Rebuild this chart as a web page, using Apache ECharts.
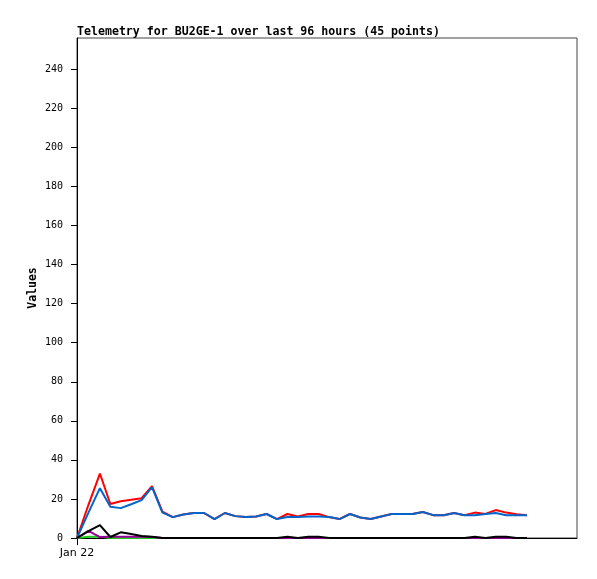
<!DOCTYPE html>
<html>
<head>
<meta charset="utf-8">
<script src="https://cdn.jsdelivr.net/npm/echarts@6/dist/echarts.min.js"></script>
<style>html,body{margin:0;padding:0;background:#fff;}#c{width:597px;height:579px;}</style>
</head>
<body>
<div id="c"></div>
<script>
// hours since start of the 96-hour window
var hours = [0, 2.2, 4.4, 6.4, 8.4, 10.4, 12.4, 14.4, 16.4, 18.4, 20.4, 22.4, 24.4, 26.4, 28.4, 30.4, 32.4, 34.4, 36.4, 38.4, 40.4, 42.4, 44.4, 46.4, 48.4, 50.4, 52.4, 54.4, 56.4, 58.4, 60.4, 62.4, 64.4, 66.4, 68.4, 70.4, 72.4, 74.4, 76.4, 78.4, 80.4, 82.4, 84.4, 86.4];
var redValues = [0, 17, 33, 17.4, 18.8, 19.6, 20.4, 26.6, 13.5, 10.7, 12, 12.8, 12.8, 9.7, 12.8, 11.2, 10.7, 11, 12.3, 9.7, 12.3, 11, 12.3, 12.3, 10.7, 9.7, 12.3, 10.5, 9.7, 11, 12.3, 12.3, 12.3, 13.3, 11.7, 11.7, 12.8, 11.7, 13, 12.3, 14.3, 13, 12.2, 11.7];
var blueValues = [0, 13, 25.5, 16, 15.3, 17.3, 19.4, 26, 13, 10.7, 12, 12.8, 12.8, 9.7, 12.8, 11.2, 10.7, 11, 12.3, 9.7, 10.7, 10.7, 11, 11, 10.7, 9.7, 12.3, 10.5, 9.7, 11, 12.3, 12.3, 12.3, 13.3, 11.7, 11.7, 12.8, 11.7, 11.7, 12.3, 12.8, 11.7, 11.7, 11.7];
var blackValues = [0, 3.5, 6.6, 0.5, 2.9, 2, 1, 0.7, 0, 0, 0, 0, 0, 0, 0, 0, 0, 0, 0, 0, 0.6, 0, 0.6, 0.6, 0, 0, 0, 0, 0, 0, 0, 0, 0, 0, 0, 0, 0, 0, 0.6, 0, 0.6, 0.6, 0, 0];
var greenValues = [0, 0.7, 0.7, 0, 0, 0, 0, 0, 0, 0, 0, 0, 0, 0, 0, 0, 0, 0, 0, 0, 0, 0, 0, 0, 0, 0, 0, 0, 0, 0, 0, 0, 0, 0, 0, 0, 0, 0, 0, 0, 0, 0, 0, 0];
var purpleValues = [0, 3.6, 0.5, 0.7, 0.7, 0.7, 0.7, 0.5, 0, 0, 0, 0, 0, 0, 0, 0, 0, 0, 0, 0, 0, 0, 0, 0, 0, 0, 0, 0, 0, 0, 0, 0, 0, 0, 0, 0, 0, 0, 0, 0, 0, 0, 0, 0];
var yTicks = [0, 20, 40, 60, 80, 100, 120, 140, 160, 180, 200, 220, 240];
var xTickValues = [0];
var xTickLabels = ['Jan 22'];
var titleText = 'Telemetry for BU2GE-1 over last 96 hours (45 points)';
var yAxisName = 'Values';

function pairs(vals) {
  return vals.map(function (v, i) { return [hours[i], v]; });
}
function line(name, vals, color) {
  return {
    name: name, type: 'line', data: pairs(vals), symbol: 'none',
    lineStyle: { color: color, width: 2 }, itemStyle: { color: color },
    animation: false, silent: true
  };
}
var mono = 'DejaVu Sans Mono';
var chart = echarts.init(document.getElementById('c'), null, { renderer: 'canvas' });
chart.setOption({
  animation: false,
  backgroundColor: '#fff',
  title: {
    text: titleText, left: 77, top: 26, padding: 0,
    textStyle: { fontFamily: mono, fontWeight: 'bold', fontSize: 11.6, color: '#000' }
  },
  grid: { left: 77, right: 20, top: 38, bottom: 41, show: true, borderColor: '#444', borderWidth: 1, backgroundColor: 'transparent' },
  xAxis: {
    type: 'value', min: 0, max: 96,
    axisLine: { show: true, lineStyle: { color: '#000', width: 1 } },
    axisTick: { show: true, length: 7, lineStyle: { color: '#000' }, customValues: xTickValues },
    axisLabel: {
      customValues: xTickValues, margin: 10,
      formatter: function (v) { var i = xTickValues.indexOf(v); return i >= 0 ? xTickLabels[i] : ''; },
      fontFamily: 'DejaVu Sans', fontSize: 11, color: '#000'
    },
    splitLine: { show: false }
  },
  yAxis: {
    type: 'value', min: 0, max: 256,
    name: yAxisName, nameLocation: 'middle', nameGap: 38, nameRotate: 90, nameMoveOverlap: false,
    nameTextStyle: { fontFamily: mono, fontWeight: 'bold', fontSize: 11.5, color: '#000' },
    axisLine: { show: true, lineStyle: { color: '#000', width: 1 } },
    axisTick: { show: true, length: 6, lineStyle: { color: '#000' }, customValues: yTicks },
    axisLabel: { customValues: yTicks, margin: 14, fontFamily: mono, fontSize: 10, color: '#000' },
    splitLine: { show: false }
  },
  series: [
    line('green', greenValues, '#22cc22'),
    line('red', redValues, '#ff0000'),
    line('blue', blueValues, '#0066cc'),
    line('purple', purpleValues, '#990099'),
    line('black', blackValues, '#000000')
  ]
});
</script>
</body>
</html>
